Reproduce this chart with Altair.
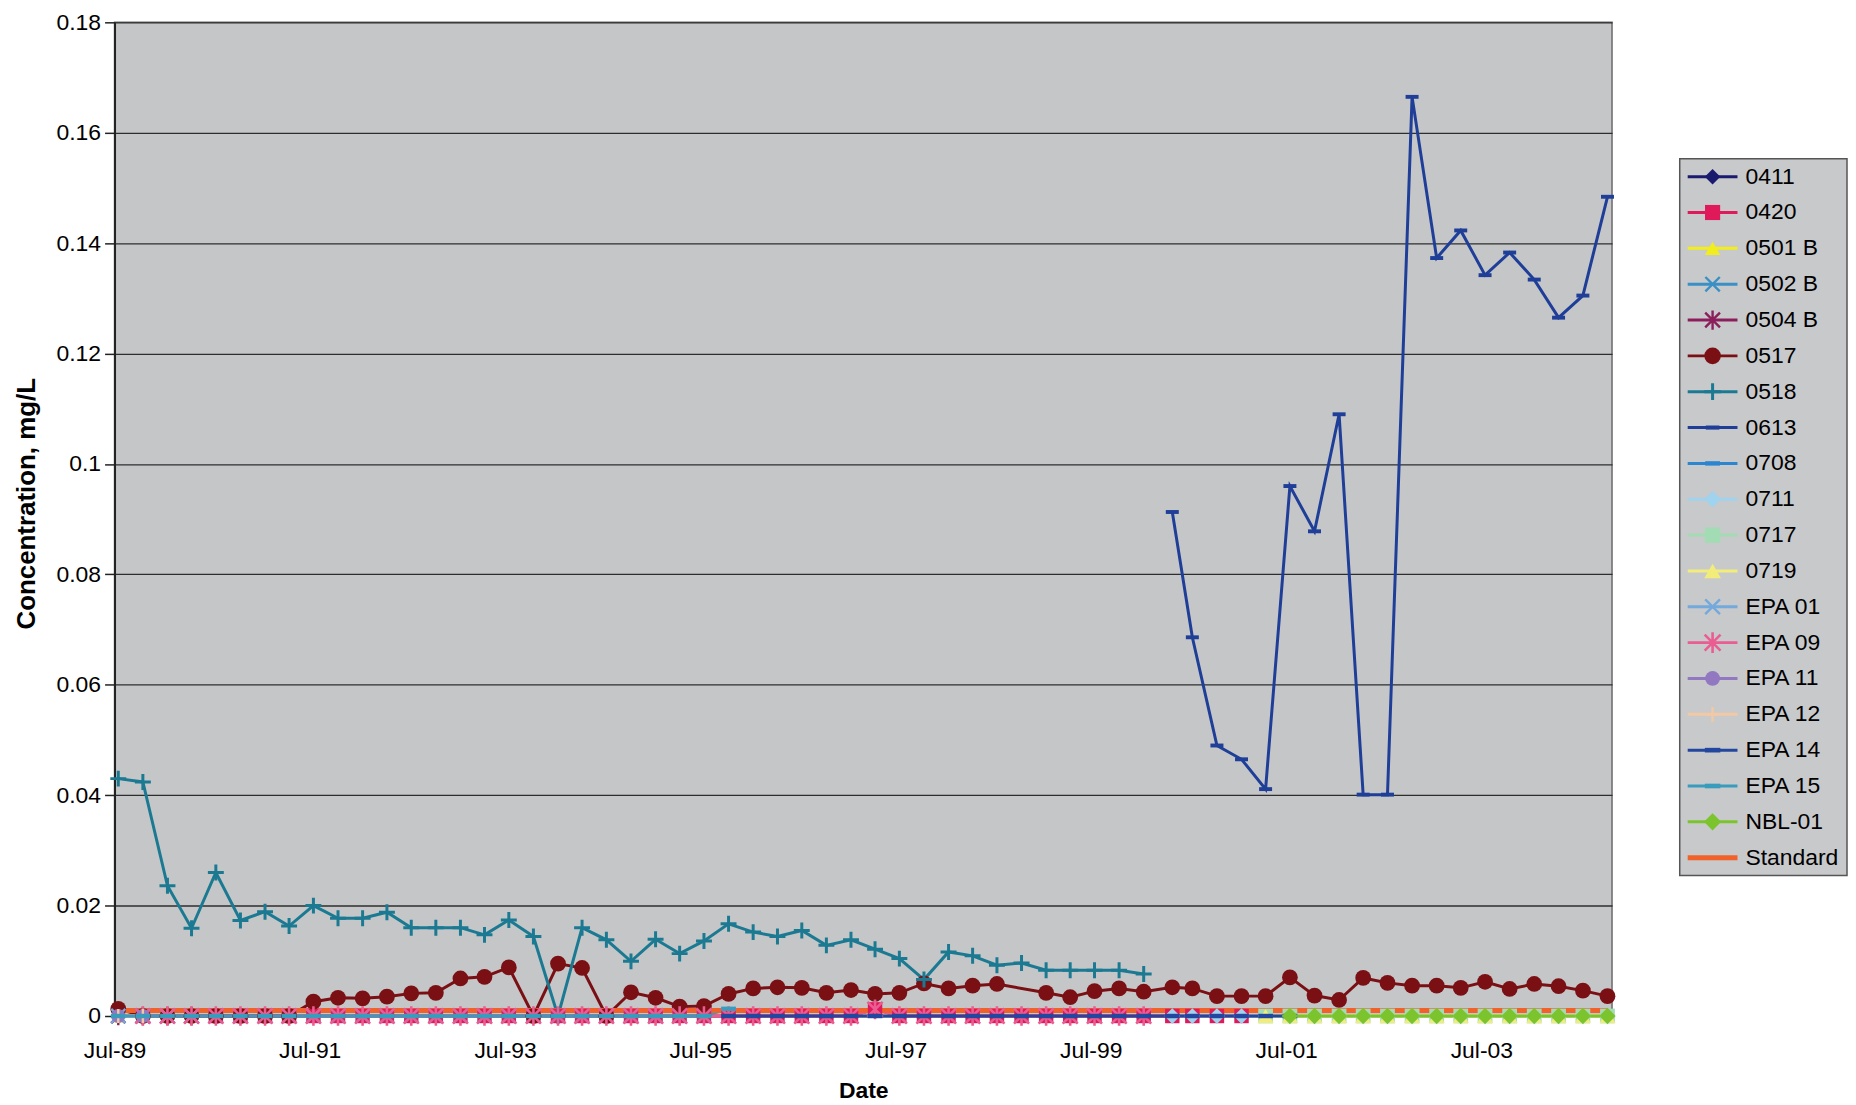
import altair as alt
import pandas as pd

# ---------------- data ----------------
QUARTERS = [
    "1989-07-15", "1989-10-15", "1990-01-15", "1990-04-15", "1990-07-15", "1990-10-15",
    "1991-01-15", "1991-04-15", "1991-07-15", "1991-10-15", "1992-01-15", "1992-04-15",
    "1992-07-15", "1992-10-15", "1993-01-15", "1993-04-15", "1993-07-15", "1993-10-15",
    "1994-01-15", "1994-04-15", "1994-07-15", "1994-10-15", "1995-01-15", "1995-04-15",
    "1995-07-15", "1995-10-15", "1996-01-15", "1996-04-15", "1996-07-15", "1996-10-15",
    "1997-01-15", "1997-04-15", "1997-07-15", "1997-10-15", "1998-01-15", "1998-04-15",
    "1998-07-15", "1998-10-15", "1999-01-15", "1999-04-15", "1999-07-15", "1999-10-15",
    "2000-01-15", "2000-05-01", "2000-07-15", "2000-10-15", "2001-01-15", "2001-04-15",
    "2001-07-15", "2001-10-15", "2002-01-15", "2002-04-15", "2002-07-15", "2002-10-15",
    "2003-01-15", "2003-04-15", "2003-07-15", "2003-10-15", "2004-01-15", "2004-04-15",
    "2004-07-15", "2004-10-15",
]

SERIES = ["0411", "0420", "0501 B", "0502 B", "0504 B", "0517", "0518", "0613", "0708",
          "0711", "0717", "0719", "EPA 01", "EPA 09", "EPA 11", "EPA 12", "EPA 14",
          "EPA 15", "NBL-01", "Standard"]

# first quarter index of each series
START = {"0411": 0, "0420": 4, "0501 B": 0, "0502 B": 0, "0504 B": 0, "0517": 0,
         "0518": 0, "0613": 43, "0708": 47, "0711": 43, "0717": 47, "0719": 47,
         "EPA 01": 0, "EPA 09": 1, "EPA 11": 0, "EPA 12": 0, "EPA 14": 25,
         "EPA 15": 0, "NBL-01": 48}

v_0411 = [0, 0, 0, 0]
v_0420 = [0, 0, 0, 0, 0, 0, 0, 0, 0, 0, 0, 0, 0, 0, 0, 0, 0, 0, 0, 0, 0, 0, 0, 0, 0, 0, 0,
          0.0012, 0, 0, 0, 0, 0, 0, 0, 0, 0, 0, 0, 0, 0, 0, 0]
v_0501B = [0, 0, 0, 0]
v_0502B = [0, 0, 0, 0, 0, 0, 0, 0, 0, 0, 0, 0, 0, 0, 0, 0, 0, 0, 0, 0, 0, 0, 0, 0, 0]
v_0504B = [0, 0, 0, 0]
v_0517 = [0.0013, 0, 0, 0, 0, 0, 0, 0, 0.0026, 0.0033, 0.0032, 0.0035, 0.0041, 0.0042,
          0.0068, 0.0071, 0.0088, 0, 0.0095, 0.0087, 0, 0.0043, 0.0033, 0.0017, 0.0018,
          0.0040, 0.0050, 0.0052, 0.0051, 0.0042, 0.0047, 0.0040, 0.0042, 0.0059, 0.0050,
          0.0055, 0.0058, None, 0.0042, 0.0034, 0.0045, 0.0050, 0.0044, 0.0052, 0.0050,
          0.0036, 0.0036, 0.0036, 0.0070, 0.0037, 0.0029, 0.0069, 0.0060, 0.0055, 0.0055,
          0.0051, 0.0062, 0.0049, 0.0058, 0.0054, 0.0046, 0.0036]
v_0518 = [0.0430, 0.0424, 0.0236, 0.0159, 0.0260, 0.0173, 0.0189, 0.0163, 0.0200, 0.0177,
          0.0177, 0.0188, 0.0160, 0.0160, 0.0160, 0.0147, 0.0174, 0.0144, 0.0, 0.0160,
          0.0138, 0.0099, 0.0139, 0.0113, 0.0136, 0.0167, 0.0152, 0.0144, 0.0155, 0.0128,
          0.0138, 0.0121, 0.0104, 0.0066, 0.0116, 0.0109, 0.0092, 0.0096, 0.0083, 0.0083,
          0.0083, 0.0083, 0.0076]
v_0613 = [0.0913, 0.0686, 0.0490, 0.0465, 0.0411, 0.0960, 0.0878, 0.1090, 0.0401, 0.0401,
          0.1665, 0.1373, 0.1423, 0.1342, 0.1383, 0.1334, 0.1265, 0.1305, 0.1484]
v_0708 = [0, 0]
v_0711 = [0, 0, 0, 0]
v_0717 = [0, 0, 0, 0, 0, 0, 0, 0, 0, 0, 0, 0, 0, 0, 0]
v_0719 = [0, 0, 0, 0, 0, 0, 0, 0, 0, 0, 0, 0, 0, 0, 0]
v_EPA01 = [0, 0, 0, 0]
v_EPA09 = [0, 0, 0, 0, 0, 0, 0, 0, 0, 0, 0, 0, 0, 0, 0, 0, 0, 0, 0, 0, 0, 0, 0, 0, 0, 0, 0,
           0, 0, 0, 0.0012, 0, 0, 0, 0, 0, 0, 0, 0, 0, 0, 0]
v_EPA11 = [0, 0]
v_EPA12 = [0, 0]
v_EPA14 = [0, 0, 0, 0, 0, 0, 0, 0, 0, 0, 0, 0, 0, 0, 0, 0, 0, 0, 0, 0, 0, 0, 0, 0]
v_EPA15 = [0, 0, 0, 0, 0, 0, 0, 0, 0, 0, 0, 0, 0, 0, 0, 0, 0, 0, 0, 0, 0, 0, 0, 0, 0, 0.0013]
v_NBL01 = [0, 0, 0, 0, 0, 0, 0, 0, 0, 0, 0, 0, 0, 0]

standard_dates = ["1989-07-15", "2004-10-15"]
standard_values = [0.001, 0.001]

VALUES = {"0411": v_0411, "0420": v_0420, "0501 B": v_0501B, "0502 B": v_0502B,
          "0504 B": v_0504B, "0517": v_0517, "0518": v_0518, "0613": v_0613,
          "0708": v_0708, "0711": v_0711, "0717": v_0717, "0719": v_0719,
          "EPA 01": v_EPA01, "EPA 09": v_EPA09, "EPA 11": v_EPA11, "EPA 12": v_EPA12,
          "EPA 14": v_EPA14, "EPA 15": v_EPA15, "NBL-01": v_NBL01}

Y_TICKS = [0, 0.02, 0.04, 0.06, 0.08, 0.1, 0.12, 0.14, 0.16, 0.18]
X_TICK_YEARS = [1989, 1991, 1993, 1995, 1997, 1999, 2001, 2003]

# ---------------- styles ----------------
COLORS = {
    "0411": "#1a1a6e", "0420": "#e0195a", "0501 B": "#f2ee1c", "0502 B": "#3a8fc4",
    "0504 B": "#8a1f5c", "0517": "#7a0f14", "0518": "#1b7a92", "0613": "#1e3e98",
    "0708": "#2c86cf", "0711": "#9fd3ee", "0717": "#a3dcb4", "0719": "#f2ec7a",
    "EPA 01": "#74a9dc", "EPA 09": "#ea5d93", "EPA 11": "#9178c0", "EPA 12": "#f2c9a4",
    "EPA 14": "#23479e", "EPA 15": "#3a9cbc", "NBL-01": "#7cc42e", "Standard": "#f0622a",
}
PLUS = "M-1,0H1M0,-1V1"
XSH = "M-1,-1L1,1M-1,1L1,-1"
ASTER = "M-1,-1L1,1M-1,1L1,-1M0,-1.3V1.3"
DASH = "M-1,-0.3H1V0.3H-1Z"
# shape, filled, size, strokeWidth
MARKERS = {
    "0411": ("diamond", True, 220, 1), "0420": ("square", True, 210, 1),
    "0501 B": ("triangle-up", True, 220, 1), "0502 B": (XSH, False, 190, 2.4),
    "0504 B": (ASTER, False, 200, 2.4), "0517": ("circle", True, 250, 1),
    "0518": (PLUS, False, 256, 3), "0613": (DASH, True, 170, 1),
    "0708": (DASH, True, 200, 1), "0711": ("diamond", True, 250, 1),
    "0717": ("square", True, 220, 1), "0719": ("triangle-up", True, 260, 1),
    "EPA 01": (XSH, False, 200, 2.4), "EPA 09": (ASTER, False, 230, 2.6),
    "EPA 11": ("circle", True, 200, 1), "EPA 12": (PLUS, False, 200, 2.4),
    "EPA 14": (DASH, True, 220, 1), "EPA 15": (DASH, True, 220, 1),
    "NBL-01": ("diamond", True, 270, 1),
}
LEGEND_SCALE = 1.1  # legend markers relative to plot markers
FONT = "Liberation Sans"
PLOT_BG = "#c5c6c8"

# ---------------- table ----------------
rows = []
for s in SERIES[:-1]:
    st = START[s]
    for d, v in zip(QUARTERS[st:st + len(VALUES[s])], VALUES[s]):
        if v is not None:
            rows.append({"series": s, "date": d, "value": v})
for d, v in zip(standard_dates, standard_values):
    rows.append({"series": "Standard", "date": d, "value": v})
df = pd.DataFrame(rows)
df["date"] = pd.to_datetime(df["date"])

x_enc = alt.X(
    "date:T",
    scale=alt.Scale(domain=[alt.DateTime(year=1989, month=7, date=1),
                            alt.DateTime(year=2004, month=11, date=1)]),
    axis=alt.Axis(values=[alt.DateTime(year=y, month=7, date=1) for y in X_TICK_YEARS],
                  format="%b-%y", grid=False, tickSize=0, labelPadding=24,
                  labelFont=FONT, labelFontSize=23, labelColor="black",
                  title="Date", titleFont=FONT, titleFontSize=23, titleFontWeight="bold",
                  titleColor="black", titlePadding=17, domainColor="#444444",
                  domainWidth=1.5, labelFlush=False),
)
y_enc = alt.Y(
    "value:Q",
    scale=alt.Scale(domain=[0, 0.18], nice=False, zero=True),
    axis=alt.Axis(values=Y_TICKS, format="~g", grid=True, gridColor="#2e2e2e",
                  gridWidth=1.3, tickSize=10, tickColor="#222222", tickWidth=1.5,
                  domainColor="#222222", domainWidth=2, labelPadding=4,
                  labelFont=FONT, labelFontSize=23, labelColor="black",
                  title="Concentration, mg/L", titleFont=FONT, titleFontSize=26,
                  titleFontWeight="bold", titleColor="black", titlePadding=17,
                  titleY=483),
)
base = alt.Chart(df).encode(x=x_enc, y=y_enc)

line_layers = []
for s in SERIES:
    w = 5 if s == "Standard" else 3
    line_layers.append(
        base.transform_filter(alt.datum.series == s)
        .mark_line(color=COLORS[s], strokeWidth=w, clip=False)
    )
point_layers = []
for s in SERIES[:-1]:
    shape, filled, size, sw = MARKERS[s]
    point_layers.append(
        base.transform_filter(alt.datum.series == s)
        .mark_point(shape=shape, filled=filled, size=size, strokeWidth=sw,
                    color=COLORS[s], opacity=1, clip=False)
    )

main = alt.layer(*line_layers, *point_layers).properties(
    width=1504, height=998,
    view=alt.ViewBackground(fill=PLOT_BG, stroke="#6a6a6a", strokeWidth=1.5),
)

# ---------------- legend panel ----------------
leg_df = pd.DataFrame({"series": SERIES})
lbase = alt.Chart(leg_df).encode(
    y=alt.Y("series:N", sort=SERIES, scale=alt.Scale(type="point", padding=0.5), axis=None)
)
leg_layers = []
for s in SERIES:
    w = 5 if s == "Standard" else 3
    leg_layers.append(
        lbase.transform_filter(alt.datum.series == s)
        .mark_rule(color=COLORS[s], strokeWidth=w)
        .encode(x=alt.value(8), x2=alt.value(58))
    )
for s in SERIES[:-1]:
    shape, filled, size, sw = MARKERS[s]
    leg_layers.append(
        lbase.transform_filter(alt.datum.series == s)
        .mark_point(shape=shape, filled=filled, size=size * LEGEND_SCALE, strokeWidth=sw,
                    color=COLORS[s], opacity=1)
        .encode(x=alt.value(33))
    )
leg_layers.append(
    lbase.mark_text(align="left", baseline="middle", font=FONT, fontSize=23,
                    color="black").encode(x=alt.value(66), text="series:N")
)
legend = alt.layer(*leg_layers).properties(
    width=168, height=720,
    view=alt.ViewBackground(fill="#c8c9cb", stroke="#555555", strokeWidth=1.5),
)

# empty spacer that pushes the legend box down to its place beside the plot
spacer = alt.Chart(leg_df).mark_point(opacity=0).encode(
    x=alt.value(0), y=alt.value(0)
).properties(width=168, height=136,
             view=alt.ViewBackground(fill="white", stroke="white", strokeWidth=0))

legend_col = alt.vconcat(spacer, legend, spacing=0)

chart = alt.hconcat(main, legend_col, spacing=58).properties(
    padding={"left": 4, "top": 0, "right": 0, "bottom": 0},
    background="white",
)

chart.save("out.html", embed_options={"renderer": "svg", "actions": False})
